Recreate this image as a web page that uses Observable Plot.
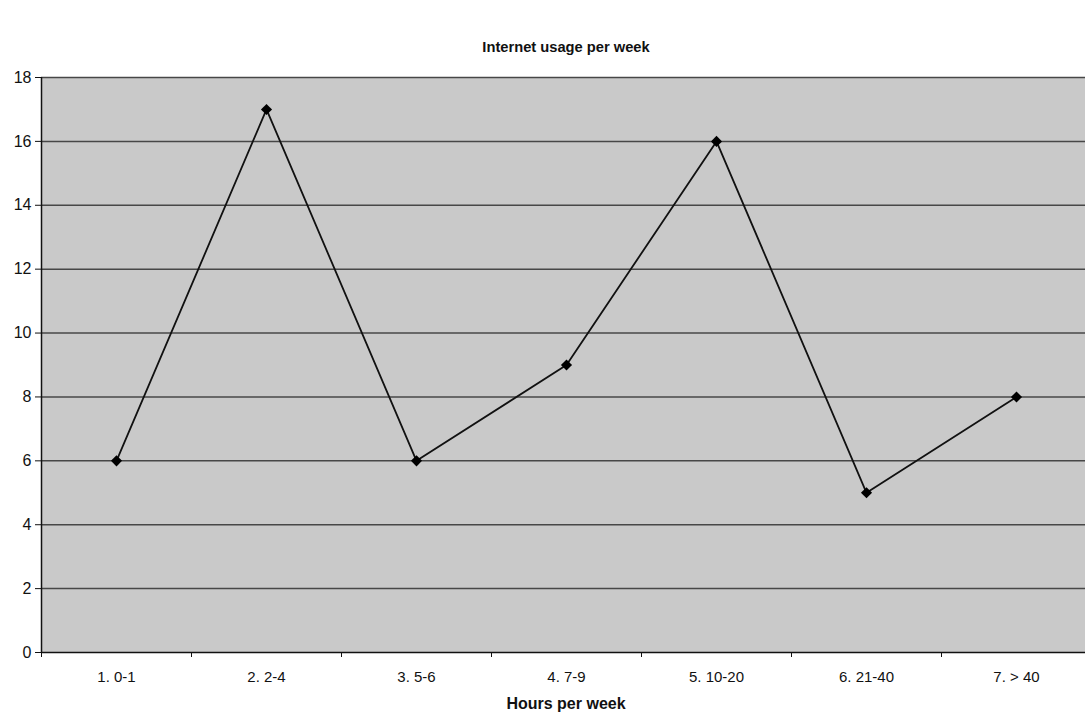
<!DOCTYPE html>
<html>
<head>
<meta charset="utf-8">
<script src="https://cdn.jsdelivr.net/npm/d3@7"></script>
<script src="https://cdn.jsdelivr.net/npm/@observablehq/plot@0.6"></script>
<style>
  html, body { margin: 0; padding: 0; background: #fff; overflow: hidden; }
  body { width: 1085px; height: 718px; position: relative; font-family: "Liberation Sans", Arial, sans-serif; }
  .caption { position: absolute; transform: translateX(-50%); white-space: nowrap; font-weight: bold; color: #111; }
  #title { left: 566px; top: 39px; font-size: 14.7px; }
  #xtitle { left: 566px; top: 695px; font-size: 16px; }
  #chart { position: absolute; left: 0; top: 60px; }
</style>
</head>
<body>
<div id="title" class="caption">Internet usage per week</div>
<div id="chart"></div>
<div id="xtitle" class="caption">Hours per week</div>
<script>
// Hours-per-week bins and how many respondents fell in each
const categories = ["1. 0-1", "2. 2-4", "3. 5-6", "4. 7-9", "5. 10-20", "6. 21-40", "7. > 40"];
const counts = [6, 17, 6, 9, 16, 5, 8];
const yTicks = [0, 2, 4, 6, 8, 10, 12, 14, 16, 18];

// Each category occupies one unit slot; the point sits in the middle of it
const rows = categories.map((label, i) => ({ pos: i + 0.5, label, value: counts[i] }));
const slotCenters = rows.map(d => d.pos);
const slotEdges = d3.range(0, categories.length + 1);

const chart = Plot.plot({
  width: 1085,
  height: 630,
  marginTop: 17,
  marginBottom: 38,
  marginLeft: 41,
  marginRight: -6,
  style: { fontFamily: "'Liberation Sans', Arial, sans-serif", color: "#111", overflow: "visible", background: "transparent" },
  x: { domain: [0, categories.length], axis: null },
  y: { domain: [0, 18], axis: null },
  marks: [
    Plot.frame({ fill: "#c9c9c9", stroke: null }),
    Plot.gridY(yTicks.filter(v => v > 0), { stroke: "#474747", strokeOpacity: 1, strokeWidth: 1.5 }),
    Plot.axisY({ ticks: yTicks, tickSize: 6, tickPadding: 4, label: null, fontSize: 16, stroke: "#111", strokeOpacity: 1 }),
    Plot.axisX({ ticks: slotEdges, tickSize: 5, tickFormat: () => "", label: null, stroke: "#111", strokeOpacity: 1 }),
    Plot.axisX({ ticks: slotCenters, tickSize: 0, tickPadding: 19, tickFormat: d => categories[Math.floor(d)], label: null, fontSize: 15 }),
    Plot.ruleY([0], { stroke: "#111", strokeWidth: 1.5 }),
    Plot.ruleX([0], { stroke: "#111", strokeWidth: 1.5 }),
    Plot.line(rows, { x: "pos", y: "value", stroke: "#111", strokeWidth: 1.8 }),
    Plot.dot(rows, { x: "pos", y: "value", symbol: "diamond2", fill: "#000", stroke: null, r: 5 })
  ]
});
document.getElementById("chart").appendChild(chart);
</script>
</body>
</html>
